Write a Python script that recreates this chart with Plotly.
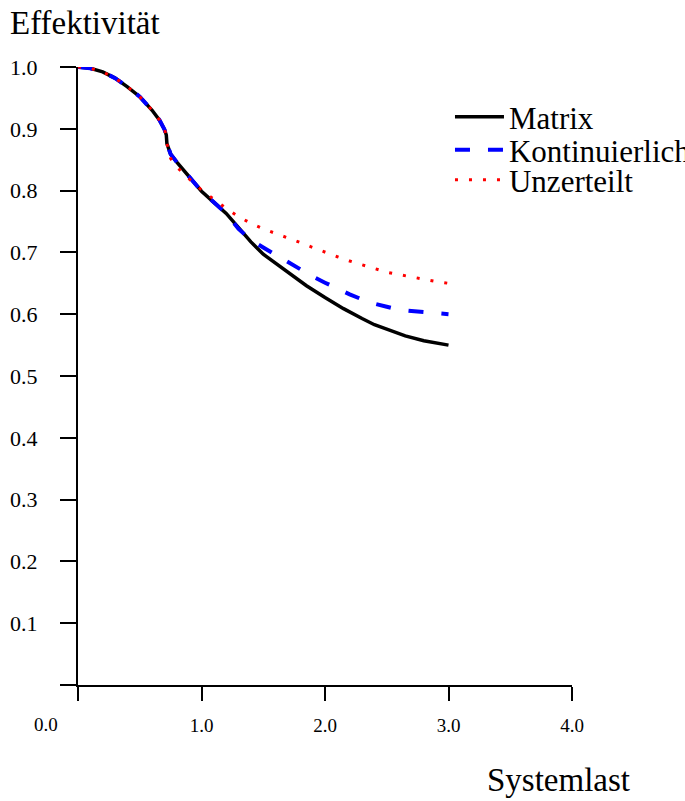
import plotly.graph_objects as go

# Effektivität über Systemlast für drei Aufteilungsstrategien
matrix_x = [0, 0.1, 0.2, 0.3, 0.4, 0.5, 0.6, 0.66, 0.7, 0.715, 0.72, 0.75, 0.8, 0.9,
            1.0, 1.1, 1.2, 1.3, 1.4, 1.5, 1.6, 1.75, 1.85, 2.0, 2.15, 2.3, 2.4, 2.5,
            2.65, 2.8, 3.0]
matrix_y = [1.0, 0.998, 0.992, 0.982, 0.968, 0.952, 0.930, 0.914, 0.899, 0.890, 0.876,
            0.859, 0.846, 0.822, 0.799, 0.781, 0.763, 0.740, 0.717, 0.697, 0.682,
            0.661, 0.646, 0.627, 0.609, 0.593, 0.583, 0.576, 0.565, 0.557, 0.550]

kont_x = [0, 0.1, 0.2, 0.3, 0.4, 0.5, 0.6, 0.66, 0.7, 0.715, 0.72, 0.75, 0.8, 0.9,
          1.0, 1.1, 1.2, 1.3, 1.4, 1.5, 1.6, 1.7, 1.8, 1.9, 2.0, 2.1, 2.2, 2.3, 2.4,
          2.5, 2.6, 2.7, 2.8, 2.9, 3.0]
kont_y = [1.0, 0.998, 0.992, 0.982, 0.968, 0.952, 0.930, 0.914, 0.899, 0.890, 0.876,
          0.859, 0.846, 0.822, 0.799, 0.781, 0.763, 0.738, 0.720, 0.708, 0.696,
          0.684, 0.672, 0.661, 0.651, 0.641, 0.632, 0.624, 0.617, 0.612, 0.607,
          0.605, 0.603, 0.601, 0.600]

unz_x = [0, 0.1, 0.2, 0.3, 0.4, 0.5, 0.6, 0.66, 0.7, 0.715, 0.72, 0.75, 0.8, 0.85,
         0.9, 1.0, 1.1, 1.2, 1.3, 1.4, 1.5, 1.6, 1.7, 1.8, 1.9, 2.0, 2.1, 2.2, 2.3,
         2.4, 2.5, 2.6, 2.7, 2.8, 2.9, 3.0]
unz_y = [1.0, 0.998, 0.992, 0.982, 0.968, 0.952, 0.930, 0.914, 0.899, 0.890, 0.876,
         0.852, 0.838, 0.828, 0.819, 0.801, 0.786, 0.771, 0.758, 0.747, 0.738,
         0.731, 0.724, 0.716, 0.708, 0.700, 0.693, 0.686, 0.680, 0.674, 0.668,
         0.664, 0.660, 0.656, 0.653, 0.650]

x_ticks = [0, 1, 2, 3, 4]
x_tick_text = ["0.0", "1.0", "2.0", "3.0", "4.0"]
y_ticks = [0, 0.1, 0.2, 0.3, 0.4, 0.5, 0.6, 0.7, 0.8, 0.9, 1.0]
y_tick_text = ["", "0.1", "0.2", "0.3", "0.4", "0.5", "0.6", "0.7", "0.8", "0.9", "1.0"]

SERIF = "Liberation Serif"

fig = go.Figure()
fig.add_trace(go.Scatter(x=matrix_x, y=matrix_y, mode="lines", name="Matrix",
                         legend="legend",
                         line=dict(color="black", width=3.5)))
fig.add_trace(go.Scatter(x=kont_x, y=kont_y, mode="lines", name="Kontinuierlich",
                         legend="legend2",
                         line=dict(color="#0000ff", width=4, dash="15px,18px")))
fig.add_trace(go.Scatter(x=unz_x, y=unz_y, mode="lines", name="Unzerteilt",
                         legend="legend3",
                         line=dict(color="#ff0000", width=3, dash="3px,11px")))

# the origin label sits left of the corner, the others under their ticks
x_labels_shown = ["" if v == 0 else t for v, t in zip(x_ticks, x_tick_text)]


def legend_box(y):
    return dict(x=0.753, y=y, xanchor="left", yanchor="middle",
                font=dict(family=SERIF, size=31, color="black"),
                bgcolor="rgba(0,0,0,0)", itemwidth=49)


fig.update_layout(
    width=685, height=801,
    margin=dict(l=78, r=113, t=67, b=116, autoexpand=False),
    paper_bgcolor="white", plot_bgcolor="white",
    font=dict(family=SERIF, color="black"),
    showlegend=True,
    legend=legend_box(0.919),
    legend2=legend_box(0.8657),
    legend3=legend_box(0.8171),
    xaxis=dict(range=[0, 4], tickvals=x_ticks, ticktext=x_labels_shown,
               showgrid=False, zeroline=False, showline=True, linecolor="black",
               linewidth=2, ticks="outside", ticklen=14, tickwidth=2,
               tickcolor="black", tickfont=dict(family=SERIF, size=19),
               ticklabelstandoff=8),
    yaxis=dict(range=[0, 1], tickvals=y_ticks, ticktext=y_tick_text,
               showgrid=False, zeroline=False, showline=True, linecolor="black",
               linewidth=2, ticks="outside", ticklen=16, tickwidth=2,
               tickcolor="black", tickfont=dict(family=SERIF, size=22),
               ticklabelstandoff=18),
    annotations=[
        dict(text=x_tick_text[0], x=x_ticks[0], y=0, xref="x", yref="paper",
             xanchor="center", yanchor="middle", xshift=-32, yshift=-39,
             showarrow=False, font=dict(family=SERIF, size=19)),
        dict(text="Effektivität", x=-0.142, y=1.071, xref="paper", yref="paper",
             xanchor="left", yanchor="middle", showarrow=False,
             font=dict(family=SERIF, size=33)),
        dict(text="Systemlast", x=1.1215, y=-0.1537, xref="paper", yref="paper",
             xanchor="right", yanchor="middle", showarrow=False,
             font=dict(family=SERIF, size=33)),
    ],
)

fig.write_html("out.html")
